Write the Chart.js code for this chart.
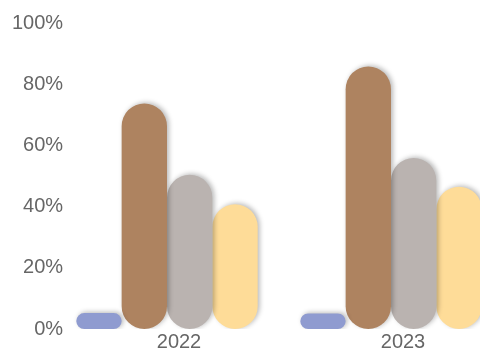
<!DOCTYPE html>
<html>
<head>
<meta charset="utf-8">
<script src="https://cdn.jsdelivr.net/npm/chart.js@4"></script>
<style>
  html, body { margin: 0; padding: 0; overflow: hidden; background: #fff; }
  #wrap { width: 503px; height: 351px; }
</style>
</head>
<body>
<div id="wrap"><canvas id="myChart"></canvas></div>
<script>
const years = ["2022", "2023"];
const blueVals = [5.2, 5.1];
const brownVals = [73.7, 85.8];
const grayVals = [50.4, 55.9];
const yellowVals = [40.8, 46.5];
const yTicks = [0, 20, 40, 60, 80, 100];

const colors = ["#8f9bd0", "#ae8360", "#bab3b0", "#fedc98"];

// soft shadow behind the bars
const barShadow = {
  id: "barShadow",
  beforeDatasetsDraw(chart) {
    const c = chart.ctx;
    c.save();
    c.shadowColor = "rgba(0,0,0,0.28)";
    c.shadowBlur = 5;
    c.shadowOffsetX = 2;
    c.shadowOffsetY = -1;
  },
  afterDatasetsDraw(chart) {
    chart.ctx.restore();
  },
};

const ctx = document.getElementById("myChart");

var myChart = new Chart(ctx, {
  type: "bar",
  data: {
    labels: years,
    datasets: [blueVals, brownVals, grayVals, yellowVals].map((vals, i) => ({
      data: vals,
      backgroundColor: colors[i],
      borderWidth: 0,
      borderRadius: 60,
      borderSkipped: false,
      categoryPercentage: 0.81,
      barPercentage: 1,
    })),
  },
  options: {
    responsive: true,
    maintainAspectRatio: false,
    animation: false,
    layout: { padding: { top: 23, right: 0, left: 0, bottom: -4 } },
    plugins: {
      legend: { display: false },
      tooltip: { enabled: false },
    },
    scales: {
      x: {
        grid: { display: false, drawTicks: false },
        border: { display: false },
        ticks: {
          color: "#666",
          padding: 3,
          labelOffset: 12,
          font: { family: "Liberation Sans", size: 20, lineHeight: 1 },
        },
      },
      y: {
        min: 0,
        max: 100,
        afterBuildTicks(scale) {
          scale.ticks = yTicks.map((v) => ({ value: v }));
        },
        afterFit(scale) {
          scale.width = 55;
        },
        grid: { display: false, drawTicks: false },
        border: { display: false },
        ticks: {
          color: "#666",
          mirror: true,
          crossAlign: "far",
          padding: -43,
          font: { family: "Liberation Sans", size: 20 },
          callback: (v) => v + "%",
        },
      },
    },
  },
  plugins: [barShadow],
});
</script>
</body>
</html>
